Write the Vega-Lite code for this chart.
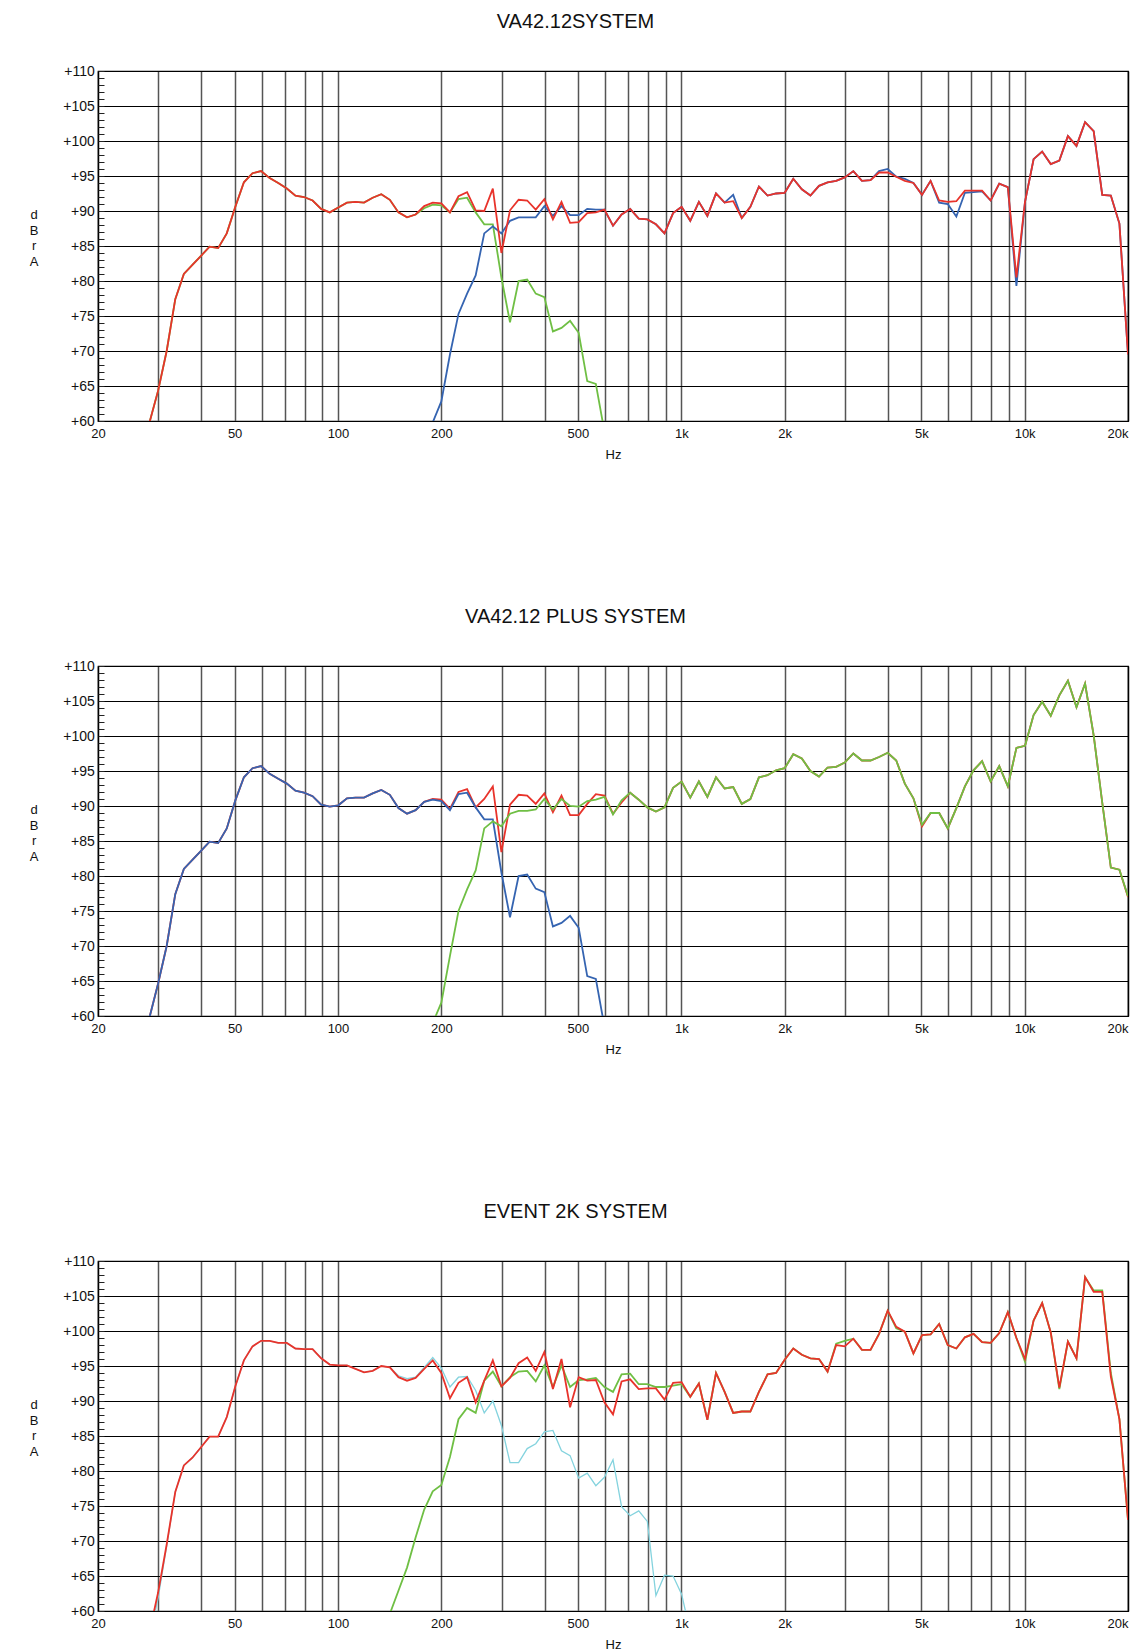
{
"$schema": "https://vega.github.io/schema/vega-lite/v6.json",
"background": "white",
"padding": {"left": 28, "top": 11, "right": 5, "bottom": 5},
"config": {"font": "Liberation Sans", "view": {"stroke": "#000", "strokeWidth": 1.2}, "concat": {"spacing": 143}},
"datasets": {
"p1": [
{"f":26.67,"r":54,"g":54},{"f":28.25,"r":59.8,"g":59.8},{"f":29.92,"r":64.3,"g":64.3},{"f":31.7,"r":70,"g":70},{"f":33.58,"r":77.4,"g":77.4},{"f":35.57,"r":81,"g":81},{"f":37.67,"r":82.3,"g":82.3},{"f":39.91,"r":83.6,"g":83.6},{"f":42.27,"r":84.9,"g":84.9},{"f":44.77,"r":84.7,"g":84.7},{"f":47.43,"r":86.8,"g":86.8},{"f":50.24,"r":90.6,"g":90.6},{"f":53.21,"r":94.1,"g":94.1},{"f":56.37,"r":95.4,"g":95.4},{"f":59.71,"r":95.7,"g":95.7},{"f":63.25,"r":94.7,"g":94.7},{"f":66.99,"r":94,"g":94},{"f":70.96,"r":93.2,"g":93.2},{"f":75.17,"r":92.2,"g":92.2},{"f":79.62,"r":92,"g":92},{"f":84.34,"r":91.5,"g":91.5},{"f":89.34,"r":90.3,"g":90.3},{"f":94.63,"r":89.8,"g":89.8},{"f":100.2,"r":90.5,"g":90.5},{"f":106.2,"r":91.2,"g":91.2},{"f":112.5,"r":91.3,"g":91.3},{"f":119.1,"r":91.2,"g":91.2},{"f":126.2,"r":91.9,"g":91.9},{"f":133.7,"r":92.4,"g":92.4},{"f":141.6,"r":91.6,"g":91.6},{"f":150,"r":89.8,"g":89.8},{"f":158.9,"r":89.1,"g":89.1},{"f":168.3,"r":89.5,"g":89.5},{"f":178.3,"r":90.7,"g":90.4},{"f":188.8,"r":91.2,"g":90.9,"b":59.8},{"f":200,"r":91.1,"g":90.8,"b":62.8},{"f":211.9,"r":89.8,"g":89.8,"b":69.5},{"f":224.4,"r":92.1,"g":91.7,"b":75.3},{"f":237.7,"r":92.7,"g":91.9,"b":78.2},{"f":251.8,"r":90.1,"g":89.8,"b":80.8},{"f":266.7,"r":90,"g":88.1,"b":86.8},{"f":282.5,"r":93.2,"g":88.1,"b":87.8},{"f":299.2,"r":84,"g":80.5,"b":86.8},{"f":317,"r":90.1,"g":74.1,"b":88.6},{"f":335.8,"r":91.6,"g":80,"b":89.1},{"f":355.7,"r":91.5,"g":80.2,"b":89.1},{"f":376.7,"r":90.2,"g":78.2,"b":89.1},{"f":399.1,"r":91.7,"g":77.7,"b":90.7},{"f":422.7,"r":88.8,"g":72.8,"b":89.3},{"f":447.7,"r":91.3,"g":73.3,"b":90.7},{"f":474.3,"r":88.3,"g":74.3,"b":89.4},{"f":502.4,"r":88.4,"g":72.6,"b":89.4},{"f":532.1,"r":89.7,"g":65.7,"b":90.3},{"f":563.7,"r":89.8,"g":65.3,"b":90.2},{"f":597.1,"r":90.2,"g":58.5,"b":90.2},
{"f":632.5,"r":87.9,"b":87.9},{"f":669.9,"r":89.5,"b":89.5},{"f":709.6,"r":90.3,"b":90.3},{"f":751.7,"r":88.9,"b":88.9},{"f":796.2,"r":88.8,"b":88.8},{"f":843.4,"r":88.1,"b":88.1},{"f":893.4,"r":86.8,"b":86.8},{"f":946.3,"r":89.7,"b":89.7},{"f":1002,"r":90.6,"b":90.6},{"f":1062,"r":88.6,"b":88.6},{"f":1125,"r":91.3,"b":91.3},{"f":1191,"r":89.3,"b":89.3},{"f":1262,"r":92.5,"b":92.5},{"f":1337,"r":91.2,"b":91.2},{"f":1416,"r":91.4,"b":92.3},{"f":1500,"r":89,"b":89},{"f":1589,"r":90.6,"b":90.6},{"f":1683,"r":93.5,"b":93.5},{"f":1783,"r":92.2,"b":92.2},{"f":1888,"r":92.5,"b":92.5},{"f":2000,"r":92.6,"b":92.6},{"f":2119,"r":94.6,"b":94.6},{"f":2244,"r":93.1,"b":93.1},{"f":2377,"r":92.2,"b":92.2},{"f":2518,"r":93.6,"b":93.6},{"f":2667,"r":94.1,"b":94.1},{"f":2825,"r":94.3,"b":94.3},{"f":2992,"r":94.8,"b":94.8},{"f":3170,"r":95.7,"b":95.7},{"f":3358,"r":94.3,"b":94.3},{"f":3557,"r":94.4,"b":94.4},{"f":3767,"r":95.5,"b":95.7},{"f":3991,"r":95.5,"b":96},{"f":4227,"r":94.9,"b":94.9},{"f":4477,"r":94.3,"b":94.6},{"f":4743,"r":94,"b":94},{"f":5024,"r":92.3,"b":92.3},{"f":5321,"r":94.3,"b":94.3},{"f":5637,"r":91.5,"b":91.2},{"f":5971,"r":91.3,"b":91},{"f":6325,"r":91.4,"b":89.2},{"f":6699,"r":92.9,"b":92.6},{"f":7096,"r":92.9,"b":92.7},{"f":7517,"r":92.9,"b":92.8},{"f":7962,"r":91.5,"b":91.5},{"f":8434,"r":93.9,"b":93.9},{"f":8934,"r":93.4,"b":93.4},{"f":9463,"r":80.5,"b":79.3},{"f":10024,"r":91.3,"b":91.3},{"f":10618,"r":97.4,"b":97.4},{"f":11247,"r":98.5,"b":98.5},{"f":11913,"r":96.7,"b":96.7},{"f":12619,"r":97.2,"b":97.2},{"f":13366,"r":100.7,"b":100.7},{"f":14158,"r":99.3,"b":99.3},{"f":14997,"r":102.7,"b":102.7},{"f":15887,"r":101.4,"b":101.4},{"f":16827,"r":92.3,"b":92.3},{"f":17825,"r":92.2,"b":92.2},{"f":18881,"r":88.2,"b":88.2},{"f":20000,"r":69.5,"b":69.5}
],
"p2": [
{"f":26.67,"r":54,"b":54},{"f":28.25,"r":59.8,"b":59.8},{"f":29.92,"r":64.6,"b":64.6},{"f":31.7,"r":70,"b":70},{"f":33.58,"r":77.4,"b":77.4},{"f":35.57,"r":81,"b":81},{"f":37.67,"r":82.3,"b":82.3},{"f":39.91,"r":83.6,"b":83.6},{"f":42.27,"r":84.9,"b":84.9},{"f":44.77,"r":84.7,"b":84.7},{"f":47.43,"r":86.8,"b":86.8},{"f":50.24,"r":90.8,"b":90.8},{"f":53.21,"r":94.1,"b":94.1},{"f":56.37,"r":95.4,"b":95.4},{"f":59.71,"r":95.7,"b":95.7},{"f":63.25,"r":94.6,"b":94.6},{"f":66.99,"r":93.9,"b":93.9},{"f":70.96,"r":93.2,"b":93.2},{"f":75.17,"r":92.2,"b":92.2},{"f":79.62,"r":91.9,"b":91.9},{"f":84.34,"r":91.4,"b":91.4},{"f":89.34,"r":90.2,"b":90.2},{"f":94.63,"r":89.9,"b":89.9},{"f":100.2,"r":90.1,"b":90.1},{"f":106.2,"r":91.1,"b":91.1},{"f":112.5,"r":91.2,"b":91.2},{"f":119.1,"r":91.2,"b":91.2},{"f":126.2,"r":91.8,"b":91.8},{"f":133.7,"r":92.3,"b":92.3},{"f":141.6,"r":91.6,"b":91.6},{"f":150,"r":89.7,"b":89.7},{"f":158.9,"r":88.9,"b":88.9},{"f":168.3,"r":89.4,"b":89.4},{"f":178.3,"r":90.6,"b":90.6},{"f":188.8,"r":91.0,"b":90.9,"g":59},{"f":200,"r":90.9,"b":90.7,"g":61.9},{"f":211.9,"r":89.6,"b":89.4,"g":68.6},{"f":224.4,"r":92,"b":91.7,"g":75},{"f":237.7,"r":92.4,"b":91.9,"g":78.1},{"f":251.8,"r":89.8,"b":89.8,"g":80.8},{"f":266.7,"r":91,"b":88.1,"g":86.8},{"f":282.5,"r":92.8,"b":88.1,"g":87.8},{"f":299.2,"r":83.4,"b":80.5,"g":87.1},{"f":317,"r":90.2,"b":74.1,"g":88.9},{"f":335.8,"r":91.6,"b":80,"g":89.3},{"f":355.7,"r":91.5,"b":80.2,"g":89.3},{"f":376.7,"r":90.3,"b":78.2,"g":89.5},{"f":399.1,"r":91.8,"b":77.7,"g":91},{"f":422.7,"r":89.1,"b":72.8,"g":89.5},{"f":447.7,"r":91.5,"b":73.3,"g":91},{"f":474.3,"r":88.7,"b":74.3,"g":90},{"f":502.4,"r":88.7,"b":72.6,"g":89.9},{"f":532.1,"r":90.3,"b":65.7,"g":90.7},{"f":563.7,"r":91.7,"b":65.3,"g":90.9},{"f":597.1,"r":91.5,"b":58.5,"g":91.3},
{"f":632.5,"r":88.9,"g":88.8},{"f":669.9,"r":90.5,"g":90.8},{"f":709.6,"r":91.9,"g":91.9},{"f":751.7,"r":90.9,"g":90.9},{"f":796.2,"r":89.8,"g":89.8},{"f":843.4,"r":89.2,"g":89.2},{"f":893.4,"r":89.8,"g":89.8},{"f":946.3,"r":92.6,"g":92.6},{"f":1002,"r":93.5,"g":93.5},{"f":1062,"r":91.2,"g":91.2},{"f":1125,"r":93.5,"g":93.5},{"f":1191,"r":91.3,"g":91.3},{"f":1262,"r":94.1,"g":94.1},{"f":1337,"r":92.5,"g":92.5},{"f":1416,"r":92.7,"g":92.7},{"f":1500,"r":90.3,"g":90.3},{"f":1589,"r":91,"g":91},{"f":1683,"r":94.1,"g":94.1},{"f":1783,"r":94.4,"g":94.4},{"f":1888,"r":95.1,"g":95.1},{"f":2000,"r":95.4,"g":95.4},{"f":2119,"r":97.4,"g":97.4},{"f":2244,"r":96.8,"g":96.8},{"f":2377,"r":95,"g":95},{"f":2518,"r":94.2,"g":94.2},{"f":2667,"r":95.5,"g":95.5},{"f":2825,"r":95.6,"g":95.6},{"f":2992,"r":96.2,"g":96.2},{"f":3170,"r":97.5,"g":97.5},{"f":3358,"r":96.5,"g":96.5},{"f":3557,"r":96.5,"g":96.5},{"f":3767,"r":97,"g":97},{"f":3991,"r":97.6,"g":97.6},{"f":4227,"r":96.5,"g":96.5},{"f":4477,"r":93.2,"g":93.2},{"f":4743,"r":91.1,"g":91.1},{"f":5024,"r":87.1,"g":87.3},{"f":5321,"r":89,"g":89},{"f":5637,"r":89,"g":89},{"f":5971,"r":86.8,"g":86.8},{"f":6325,"r":89.7,"g":89.7},{"f":6699,"r":92.8,"g":92.8},{"f":7096,"r":95.1,"g":95.1},{"f":7517,"r":96.4,"g":96.4},{"f":7962,"r":93.5,"g":93.5},{"f":8434,"r":95.7,"g":95.7},{"f":8934,"r":92.8,"g":92.8},{"f":9463,"r":98.3,"g":98.3},{"f":10024,"r":98.6,"g":98.6},{"f":10618,"r":103,"g":103},{"f":11247,"r":104.9,"g":104.9},{"f":11913,"r":102.9,"g":102.9},{"f":12619,"r":105.8,"g":105.8},{"f":13366,"r":107.9,"g":107.9},{"f":14158,"r":104.1,"g":104.1},{"f":14997,"r":107.5,"g":107.5},{"f":15887,"r":100.1,"g":100.1},{"f":16827,"r":90.5,"g":90.5},{"f":17825,"r":81.2,"g":81.2},{"f":18881,"r":80.9,"g":80.9},{"f":20000,"r":77,"g":77.1}
],
"p3": [
{"f":26.67,"r":52,"c":51},{"f":28.25,"r":57,"c":56},{"f":29.92,"r":62.6,"c":61.8},{"f":31.7,"r":69.5,"c":69.3},{"f":33.58,"r":77,"c":77},{"f":35.57,"r":80.8,"c":80.8},{"f":37.67,"r":81.9,"c":81.9},{"f":39.91,"r":83.4,"c":83.4},{"f":42.27,"r":84.9,"c":84.9},{"f":44.77,"r":84.9,"c":84.9},{"f":47.43,"r":87.7,"c":87.7},{"f":50.24,"r":92.1,"c":92.1},{"f":53.21,"r":95.8,"c":95.8},{"f":56.37,"r":97.8,"c":97.8},{"f":59.71,"r":98.6,"c":98.6},{"f":63.25,"r":98.6,"c":98.6},{"f":66.99,"r":98.3,"c":98.3},{"f":70.96,"r":98.3,"c":98.3},{"f":75.17,"r":97.5,"c":97.5},{"f":79.62,"r":97.4,"c":97.4},{"f":84.34,"r":97.4,"c":97.4},{"f":89.34,"r":96.1,"c":96.1},{"f":94.63,"r":95.2,"c":95.2},{"f":100.2,"r":95.1,"c":95.1},{"f":106.2,"r":95.1,"c":95.1},{"f":112.5,"r":94.6,"c":94.6},{"f":119.1,"r":94.1,"c":94.1},{"f":126.2,"r":94.3,"c":94.3},{"f":133.7,"r":95,"c":95,"g":55},{"f":141.6,"r":94.8,"c":94.8,"g":59.6},{"f":150,"r":93.4,"c":93.6,"g":62.9},{"f":158.9,"r":92.9,"c":93.2,"g":66.2},{"f":168.3,"r":93.3,"c":93.4,"g":70.5},{"f":178.3,"r":94.6,"c":94.8,"g":74.5},{"f":188.8,"r":95.8,"c":96.2,"g":77.1},{"f":200,"r":94,"c":94.7,"g":78},{"f":211.9,"r":90.4,"c":92,"g":82},{"f":224.4,"r":92.6,"c":93.4,"g":87.4},{"f":237.7,"r":93.4,"c":93.5,"g":89},{"f":251.8,"r":89.8,"c":91.5,"g":88.3},{"f":266.7,"r":92.9,"c":88.3,"g":92.9},{"f":282.5,"r":95.8,"c":90,"g":94.2},{"f":299.2,"r":92.1,"c":86.5,"g":92.1},{"f":317,"r":93.3,"c":81.2,"g":93.4},{"f":335.8,"r":95.4,"c":81.2,"g":94.2},{"f":355.7,"r":96.2,"c":83.2,"g":94.3},{"f":376.7,"r":94.3,"c":83.9,"g":92.8},{"f":399.1,"r":97,"c":85.6,"g":95.1},{"f":422.7,"r":91.7,"c":85.8,"g":92},{"f":447.7,"r":96,"c":82.9,"g":95.1},{"f":474.3,"r":89.1,"c":82.2,"g":92},{"f":502.4,"r":93.4,"c":79,"g":93},{"f":532.1,"r":92.9,"c":79.7,"g":93.1},{"f":563.7,"r":93,"c":77.9,"g":93.3},{"f":597.1,"r":89.8,"c":79.1,"g":92},{"f":632.5,"r":88.1,"c":81.6,"g":91.3},{"f":669.9,"r":92.8,"c":74.9,"g":93.8},{"f":709.6,"r":93.1,"c":73.6,"g":93.9},{"f":751.7,"r":91.7,"c":74.3,"g":92.4},{"f":796.2,"r":91.8,"c":72.8,"g":92.4},{"f":843.4,"r":91.8,"c":62.2,"g":92},{"f":893.4,"r":90.2,"c":65.1,"g":92},{"f":946.3,"r":92.6,"c":65,"g":92.2},{"f":1002,"r":92.7,"c":62.4,"g":92.4},{"f":1062,"r":90.6,"c":57,"g":90.6},
{"f":1125,"r":92.5,"g":92.5},{"f":1191,"r":87.3,"g":87.3},{"f":1262,"r":94,"g":94},{"f":1337,"r":91.3,"g":91.3},{"f":1416,"r":88.3,"g":88.3},{"f":1500,"r":88.5,"g":88.5},{"f":1589,"r":88.5,"g":88.5},{"f":1683,"r":91.3,"g":91.3},{"f":1783,"r":93.8,"g":93.8},{"f":1888,"r":94,"g":94},{"f":2000,"r":95.9,"g":95.9},{"f":2119,"r":97.5,"g":97.5},{"f":2244,"r":96.6,"g":96.6},{"f":2377,"r":96.1,"g":96.1},{"f":2518,"r":96,"g":96},{"f":2667,"r":94.2,"g":94.2},{"f":2825,"r":98,"g":98.2},{"f":2992,"r":97.8,"g":98.6},{"f":3170,"r":98.9,"g":98.9},{"f":3358,"r":97.3,"g":97.3},{"f":3557,"r":97.3,"g":97.3},{"f":3767,"r":99.6,"g":99.6},{"f":3991,"r":102.9,"g":102.9},{"f":4227,"r":100.6,"g":100.4},{"f":4477,"r":99.9,"g":99.9},{"f":4743,"r":96.8,"g":96.8},{"f":5024,"r":99.4,"g":99.4},{"f":5321,"r":99.5,"g":99.5},{"f":5637,"r":101,"g":101},{"f":5971,"r":98,"g":98},{"f":6325,"r":97.5,"g":97.5},{"f":6699,"r":99.1,"g":99.1},{"f":7096,"r":99.6,"g":99.6},{"f":7517,"r":98.4,"g":98.4},{"f":7962,"r":98.3,"g":98.3},{"f":8434,"r":99.7,"g":99.7},{"f":8934,"r":102.7,"g":102.7},{"f":9463,"r":99,"g":99},{"f":10024,"r":96,"g":95.6},{"f":10618,"r":101.5,"g":101.5},{"f":11247,"r":104,"g":104},{"f":11913,"r":99.8,"g":99.8},{"f":12619,"r":91.9,"g":91.7},{"f":13366,"r":98.5,"g":98.5},{"f":14158,"r":96.1,"g":96.1},{"f":14997,"r":107.7,"g":107.7},{"f":15887,"r":105.6,"g":105.8},{"f":16827,"r":105.6,"g":105.8},{"f":17825,"r":93.5,"g":94},{"f":18881,"r":87.4,"g":87.4},{"f":20000,"r":73,"g":73}
]
},
"vconcat": [
{
"title": {"text": "VA42.12SYSTEM", "frame": "group", "anchor": "middle", "dx": -37.5, "fontSize": 20, "fontWeight": "normal", "font": "Liberation Sans", "color": "#111", "baseline": "alphabetic", "offset": 16.3},
"width": 1030, "height": 350,
"data": {"name": "p1"},
"transform": [{"fold": ["g", "b", "r"], "as": ["s", "v"]}],
"encoding": {
 "x": {"field": "f", "type": "quantitative", "scale": {"type": "log", "domain": [20, 20000]},
  "axis": {"values": [20,30,40,50,60,70,80,90,100,200,300,400,500,600,700,800,900,1000,2000,3000,4000,5000,6000,7000,8000,9000,10000,20000],
  "labelExpr": "(datum.value==20||datum.value==50||datum.value==100||datum.value==200||datum.value==500) ? ''+datum.value : (datum.value==1000||datum.value==2000||datum.value==5000||datum.value==10000||datum.value==20000) ? (datum.value/1000)+'k' : ''",
  "labelAlign": {"condition": {"test": "datum.value >= 20000", "value": "right"}, "value": "center"},
  "labelOverlap": false, "labelFlush": false, "ticks": false, "domain": false,
  "gridColor": {"condition": {"test": "datum.value == 20 || datum.value >= 20000", "value": "#000"}, "value": "#555"}, "gridWidth": 1.5,
  "labelFontSize": 13, "labelColor": "#111", "labelPadding": 6.5, "labelFont": "Liberation Sans",
  "title": "Hz", "titleFontSize": 13, "titleFontWeight": "normal", "titleColor": "#111", "titlePadding": 8, "titleFont": "Liberation Sans"}},
 "y": {"field": "v", "type": "quantitative", "scale": {"domain": [60, 110]},
  "axis": {"values": [60,61,62,63,64,65,66,67,68,69,70,71,72,73,74,75,76,77,78,79,80,81,82,83,84,85,86,87,88,89,90,91,92,93,94,95,96,97,98,99,100,101,102,103,104,105,106,107,108,109,110],
  "labelExpr": "datum.value % 5 === 0 ? '+' + datum.value : ''",
  "gridColor": {"condition": {"test": "datum.value % 5 === 0", "value": "#000"}, "value": "transparent"}, "gridWidth": 1,
  "tickSize": -6, "tickColor": "#222", "tickWidth": 1, "labelPadding": 9.7, "labelFontSize": 14, "labelColor": "#111", "labelFont": "Liberation Sans",
  "labelOverlap": false, "domain": false,
  "title": ["d","B","r","","A"], "titleAngle": 0, "titleAlign": "center", "titleBaseline": "middle", "titleX": -64.4, "titleY": 143.5,
  "titleFontSize": 13, "titleFontWeight": "normal", "titleColor": "#111", "titleLineHeight": 15.6, "titleFont": "Liberation Sans"}}
},
"layer": [
{"transform": [{"filter": "datum.s === 'g'"}], "mark": {"type": "line", "color": "#6fbf44", "strokeWidth": 1.8, "clip": true}},
{"transform": [{"filter": "datum.s === 'b'"}], "mark": {"type": "line", "color": "#3564b1", "strokeWidth": 1.8, "clip": true}},
{"transform": [{"filter": "datum.s === 'r'"}], "mark": {"type": "line", "color": "#e8332b", "strokeWidth": 1.8, "clip": true}}
]
},
{
"title": {"text": "VA42.12 PLUS SYSTEM", "frame": "group", "anchor": "middle", "dx": -37.5, "fontSize": 20, "fontWeight": "normal", "font": "Liberation Sans", "color": "#111", "baseline": "alphabetic", "offset": 16.3},
"width": 1030, "height": 350,
"data": {"name": "p2"},
"transform": [{"fold": ["r", "b", "g"], "as": ["s", "v"]}],
"encoding": {
 "x": {"field": "f", "type": "quantitative", "scale": {"type": "log", "domain": [20, 20000]},
  "axis": {"values": [20,30,40,50,60,70,80,90,100,200,300,400,500,600,700,800,900,1000,2000,3000,4000,5000,6000,7000,8000,9000,10000,20000],
  "labelExpr": "(datum.value==20||datum.value==50||datum.value==100||datum.value==200||datum.value==500) ? ''+datum.value : (datum.value==1000||datum.value==2000||datum.value==5000||datum.value==10000||datum.value==20000) ? (datum.value/1000)+'k' : ''",
  "labelAlign": {"condition": {"test": "datum.value >= 20000", "value": "right"}, "value": "center"},
  "labelOverlap": false, "labelFlush": false, "ticks": false, "domain": false,
  "gridColor": {"condition": {"test": "datum.value == 20 || datum.value >= 20000", "value": "#000"}, "value": "#555"}, "gridWidth": 1.5,
  "labelFontSize": 13, "labelColor": "#111", "labelPadding": 6.5, "labelFont": "Liberation Sans",
  "title": "Hz", "titleFontSize": 13, "titleFontWeight": "normal", "titleColor": "#111", "titlePadding": 8, "titleFont": "Liberation Sans"}},
 "y": {"field": "v", "type": "quantitative", "scale": {"domain": [60, 110]},
  "axis": {"values": [60,61,62,63,64,65,66,67,68,69,70,71,72,73,74,75,76,77,78,79,80,81,82,83,84,85,86,87,88,89,90,91,92,93,94,95,96,97,98,99,100,101,102,103,104,105,106,107,108,109,110],
  "labelExpr": "datum.value % 5 === 0 ? '+' + datum.value : ''",
  "gridColor": {"condition": {"test": "datum.value % 5 === 0", "value": "#000"}, "value": "transparent"}, "gridWidth": 1,
  "tickSize": -6, "tickColor": "#222", "tickWidth": 1, "labelPadding": 9.7, "labelFontSize": 14, "labelColor": "#111", "labelFont": "Liberation Sans",
  "labelOverlap": false, "domain": false,
  "title": ["d","B","r","","A"], "titleAngle": 0, "titleAlign": "center", "titleBaseline": "middle", "titleX": -64.4, "titleY": 143.5,
  "titleFontSize": 13, "titleFontWeight": "normal", "titleColor": "#111", "titleLineHeight": 15.6, "titleFont": "Liberation Sans"}}
},
"layer": [
{"transform": [{"filter": "datum.s === 'r'"}], "mark": {"type": "line", "color": "#e8332b", "strokeWidth": 1.8, "clip": true}},
{"transform": [{"filter": "datum.s === 'b'"}], "mark": {"type": "line", "color": "#3564b1", "strokeWidth": 1.8, "clip": true}},
{"transform": [{"filter": "datum.s === 'g'"}], "mark": {"type": "line", "color": "#6fbf44", "strokeWidth": 1.8, "clip": true}}
]
},
{
"title": {"text": "EVENT 2K SYSTEM", "frame": "group", "anchor": "middle", "dx": -37.5, "fontSize": 20, "fontWeight": "normal", "font": "Liberation Sans", "color": "#111", "baseline": "alphabetic", "offset": 16.3},
"width": 1030, "height": 350,
"data": {"name": "p3"},
"transform": [{"fold": ["c", "g", "r"], "as": ["s", "v"]}],
"encoding": {
 "x": {"field": "f", "type": "quantitative", "scale": {"type": "log", "domain": [20, 20000]},
  "axis": {"values": [20,30,40,50,60,70,80,90,100,200,300,400,500,600,700,800,900,1000,2000,3000,4000,5000,6000,7000,8000,9000,10000,20000],
  "labelExpr": "(datum.value==20||datum.value==50||datum.value==100||datum.value==200||datum.value==500) ? ''+datum.value : (datum.value==1000||datum.value==2000||datum.value==5000||datum.value==10000||datum.value==20000) ? (datum.value/1000)+'k' : ''",
  "labelAlign": {"condition": {"test": "datum.value >= 20000", "value": "right"}, "value": "center"},
  "labelOverlap": false, "labelFlush": false, "ticks": false, "domain": false,
  "gridColor": {"condition": {"test": "datum.value == 20 || datum.value >= 20000", "value": "#000"}, "value": "#555"}, "gridWidth": 1.5,
  "labelFontSize": 13, "labelColor": "#111", "labelPadding": 6.5, "labelFont": "Liberation Sans",
  "title": "Hz", "titleFontSize": 13, "titleFontWeight": "normal", "titleColor": "#111", "titlePadding": 8, "titleFont": "Liberation Sans"}},
 "y": {"field": "v", "type": "quantitative", "scale": {"domain": [60, 110]},
  "axis": {"values": [60,61,62,63,64,65,66,67,68,69,70,71,72,73,74,75,76,77,78,79,80,81,82,83,84,85,86,87,88,89,90,91,92,93,94,95,96,97,98,99,100,101,102,103,104,105,106,107,108,109,110],
  "labelExpr": "datum.value % 5 === 0 ? '+' + datum.value : ''",
  "gridColor": {"condition": {"test": "datum.value % 5 === 0", "value": "#000"}, "value": "transparent"}, "gridWidth": 1,
  "tickSize": -6, "tickColor": "#222", "tickWidth": 1, "labelPadding": 9.7, "labelFontSize": 14, "labelColor": "#111", "labelFont": "Liberation Sans",
  "labelOverlap": false, "domain": false,
  "title": ["d","B","r","","A"], "titleAngle": 0, "titleAlign": "center", "titleBaseline": "middle", "titleX": -64.4, "titleY": 143.5,
  "titleFontSize": 13, "titleFontWeight": "normal", "titleColor": "#111", "titleLineHeight": 15.6, "titleFont": "Liberation Sans"}}
},
"layer": [
{"transform": [{"filter": "datum.s === 'c'"}], "mark": {"type": "line", "color": "#84d3de", "strokeWidth": 1.3, "clip": true}},
{"transform": [{"filter": "datum.s === 'g'"}], "mark": {"type": "line", "color": "#6fbf44", "strokeWidth": 1.8, "clip": true}},
{"transform": [{"filter": "datum.s === 'r'"}], "mark": {"type": "line", "color": "#e8332b", "strokeWidth": 1.8, "clip": true}}
]
}
]
}
